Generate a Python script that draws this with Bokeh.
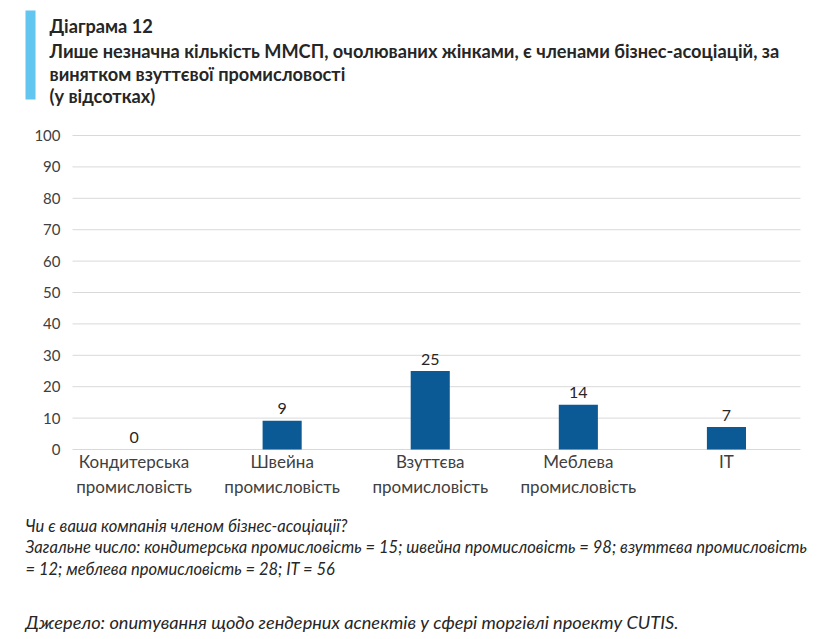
from bokeh.plotting import figure
from bokeh.models import Range1d, FixedTicker, ColumnDataSource
from bokeh.layouts import column
from bokeh.embed import file_html
from bokeh.resources import INLINE
from bokeh.core.properties import value

categories = ["Кондитерська\nпромисловість", "Швейна\nпромисловість", "Взуттєва\nпромисловість",
              "Меблева\nпромисловість", "IT"]
values = [0.0, 9.18, 25.0, 14.29, 7.14]
value_labels = ["0", "9", "25", "14", "7"]
y_ticks = [0, 10, 20, 30, 40, 50, 60, 70, 80, 90, 100]
y_tick_labels = [str(t) for t in y_ticks]

title_lines = ["Діаграма 12",
               "Лише незначна кількість ММСП, очолюваних жінками, є членами бізнес-асоціацій, за",
               "винятком взуттєвої промисловості",
               "(у відсотках)"]
note_lines = ["Чи є ваша компанія членом бізнес-асоціації?",
              "Загальне число: кондитерська промисловість = 15; швейна промисловість = 98; взуттєва промисловість",
              "= 12; меблева промисловість = 28; IT = 56"]
source_line = "Джерело: опитування щодо гендерних аспектів у сфері торгівлі проекту CUTIS."

# ---- layout constants (page pixels) ----
W = 818
FONT = "Lato"
TXT = "#262626"
AX_TXT = "#404040"
BAR = "#0b5a96"
GRID = "#d9d9d9"
PL, PR = 72, 800            # plot-area left/right
PTOP, PBOT = 135, 449       # y=100 / y=0 positions
XMIN, XMAX = -0.4155, 4.5   # category extent of plot area
YMIN_V, YMAX_V = 0, 100


def blank(h):
    f = figure(width=W, height=h, x_range=Range1d(0, W), y_range=Range1d(h, 0),
               output_backend="svg", toolbar_location=None,
               x_axis_location=None, y_axis_location=None, min_border=0)
    f.grid.visible = False
    f.outline_line_color = None
    return f


# ---- header ----
HH = 118
hdr = blank(HH)
hdr.quad(left=[25], right=[35], top=[10], bottom=[99], color="#63c6f0", line_color=None)
hdr.text(x=[49] * 4, y=[25.7, 50, 73, 95.7], text=title_lines,
         text_font=value(FONT), text_font_size="18.2px", text_font_style="bold",
         text_color=TXT, text_baseline="alphabetic")

# ---- main chart ----
MH = 390
MTOP = HH                   # page y of main figure top
BB = 50                     # bottom border for x axis
frame_bottom = MTOP + MH - BB
px_y = (PBOT - PTOP) / (YMAX_V - YMIN_V)
y0 = YMIN_V - (frame_bottom - PBOT) / px_y
y1 = y0 + (frame_bottom - MTOP) / px_y
px_x = (PR - PL) / (XMAX - XMIN)
x0 = XMIN - PL / px_x
x1 = x0 + W / px_x

idx = list(range(len(categories)))
src = ColumnDataSource(dict(x=idx, top=values, lab=value_labels))
p = figure(width=W, height=MH, x_range=Range1d(x0, x1), y_range=Range1d(y0, y1),
           output_backend="svg", toolbar_location=None, y_axis_location=None,
           min_border_left=0, min_border_right=0, min_border_top=0, min_border_bottom=BB)
p.outline_line_color = None
p.grid.visible = False

# horizontal grid lines over the plot area
p.segment(x0=[XMIN] * len(y_ticks), x1=[XMAX] * len(y_ticks), y0=y_ticks, y1=y_ticks,
          line_color=GRID, line_width=1)
# y tick labels
p.text(x=[XMIN] * len(y_ticks), y=y_ticks, text=y_tick_labels, x_offset=-12,
       text_font=value(FONT), text_font_size="15px", text_color=AX_TXT,
       text_align="right", text_baseline="middle")

p.vbar(x="x", top="top", width=0.264, source=src, color=BAR, line_color=None)
p.text(x="x", y="top", text="lab", source=src, text_font=value(FONT), text_font_size="16px",
       text_color=TXT, text_align="center", text_baseline="alphabetic", y_offset=-12)

p.xaxis.ticker = FixedTicker(ticks=idx)
p.xaxis.major_label_overrides = {i: c for i, c in zip(idx, categories)}
p.xaxis.axis_line_color = None
p.xaxis.major_tick_line_color = None
p.xaxis.minor_tick_line_color = None
p.xaxis.major_tick_out = 0
p.xaxis.major_tick_in = 0
p.xaxis.major_label_text_font = FONT
p.xaxis.major_label_text_color = AX_TXT
p.xaxis.major_label_text_font_size = "17px"
p.xaxis.major_label_standoff = -8

# ---- footer ----
FH = 126
ftr = blank(FH)
ftr.text(x=[25] * 3, y=[17, 38.5, 60], text=note_lines, text_font=value(FONT),
         text_font_size="16.5px", text_font_style="italic", text_color=TXT,
         text_baseline="alphabetic")
ftr.text(x=[25], y=[113.7], text=[source_line], text_font=value(FONT),
         text_font_size="18.2px", text_font_style="italic", text_color=TXT,
         text_baseline="alphabetic")

layout = column(hdr, p, ftr, spacing=0)
open("out.html", "w").write(file_html(layout, INLINE))
